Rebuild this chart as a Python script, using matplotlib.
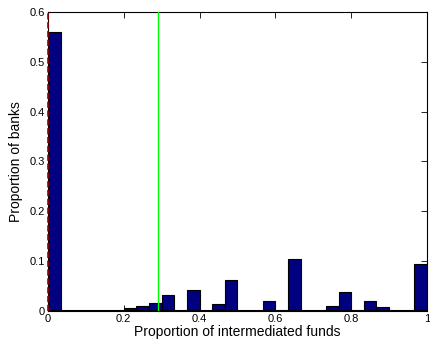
import numpy as np
import matplotlib
matplotlib.use('Agg')
import matplotlib.pyplot as plt

plt.rcParams['font.family'] = ['Liberation Sans', 'DejaVu Sans']

# histogram: 30 bins of width 1/30 on [0, 1]
bin_edges = np.linspace(0, 1, 31)
proportions = [0.559, 0, 0, 0, 0, 0, 0.005, 0.009, 0.016, 0.032,
               0, 0.042, 0, 0.014, 0.062, 0, 0, 0.021, 0, 0.104,
               0, 0, 0.010, 0.038, 0, 0.020, 0.008, 0, 0, 0.094]
threshold = 0.291   # green line
mean_line = 0.0     # red dashed line

fig = plt.figure(figsize=(4.3, 3.45), dpi=100)
ax = fig.add_axes([0.1116, 0.0986, 0.8814, 0.8667])

ax.bar(bin_edges[:-1], proportions, width=np.diff(bin_edges), align='edge',
       color='#000080', edgecolor='black', linewidth=0.8, zorder=2)
ax.axhline(0, color='black', linewidth=1.5, zorder=2.5)
ax.axvline(threshold, color='#00ff00', linewidth=1, zorder=3)
ax.axvline(mean_line, color='#a00000', linestyle='--', linewidth=1.2,
           zorder=4, clip_on=False)

ax.set_xlim(0, 1)
ax.set_ylim(0, 0.6)
ax.set_xticks([0, 0.2, 0.4, 0.6, 0.8, 1])
ax.set_xticklabels(['0', '0.2', '0.4', '0.6', '0.8', '1'])
ax.set_yticks([0, 0.1, 0.2, 0.3, 0.4, 0.5, 0.6])
ax.set_yticklabels(['0', '0.1', '0.2', '0.3', '0.4', '0.5', '0.6'])
ax.tick_params(direction='in', top=True, right=True, length=4, width=0.6,
               labelsize=8, pad=2)
for s in ax.spines.values():
    s.set_linewidth(0.8)

ax.set_xlabel('Proportion of intermediated funds', fontsize=10, labelpad=1)
ax.set_ylabel('Proportion of banks', fontsize=10, labelpad=5)

fig.savefig('out.png', dpi=100)
